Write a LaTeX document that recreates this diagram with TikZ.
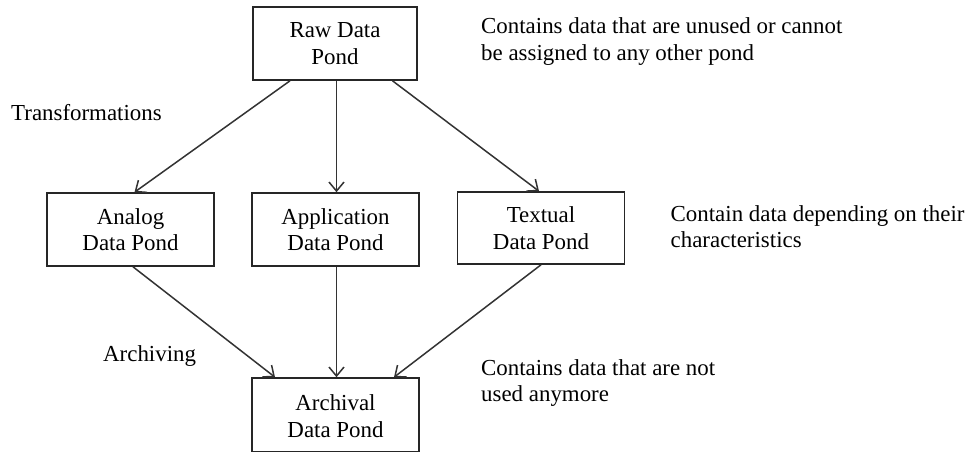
\documentclass[tikz,border=0pt]{standalone}
\usepackage{fontspec}
\setmainfont{Liberation Serif}
\usetikzlibrary{arrows.meta,calc}
\begin{document}
\begin{tikzpicture}[x=1pt,y=-1pt,
  font=\fontsize{22.9}{26.6}\selectfont,
  pond/.style={draw=black!85, line width=1.6pt, align=center,
    inner sep=0pt, minimum width=167pt, minimum height=73pt},
  flow/.style={draw=black!80, line width=1.5pt,
    -{Straight Barb[length=9pt,width=15pt,line width=1.5pt]}},
  note/.style={anchor=west, align=left, inner sep=0pt}]
  \useasboundingbox (0,0) rectangle (967,451);
  \clip (0,0) rectangle (967,451);

  % ponds
  \node[pond, minimum width=164pt] (raw) at (335,43.5) {Raw Data\\Pond};
  \node[pond] (analog) at (130.5,229.5) {Analog\\Data Pond};
  \node[pond] (app) at (335.5,229.5) {Application\\Data Pond};
  \node[pond, minimum height=72pt] (text) at (541,228) {Textual\\Data Pond};
  \node[pond, minimum height=74pt] (arch) at (335.5,415) {};
  \node[align=center, inner sep=0pt] (archlbl) at (335.5,416) {Archival\\Data Pond};

  % transformations
  \draw[flow] ($(raw.south)+(-45,0)$) -- ($(analog.north)+(4,0)$);
  \draw[flow] ($(raw.south)+(1.5,0)$) -- ($(app.north)+(1,0)$);
  \draw[flow] ($(raw.south)+(57.5,0)$) -- ($(text.north)+(-2,0)$);

  % archiving
  \draw[flow] ($(analog.south)+(2.5,0)$) -- ($(arch.north)+(-60.5,0)$);
  \draw[flow] ($(app.south)+(1,0)$) -- ($(arch.north)+(1,0)$);
  \draw[flow] (text.south) -- ($(arch.north)+(58.5,0)$);

  % labels
  \node[note] (ltrans) at (11,113) {Transformations};
  \node[note] (larch) at (103,356) {Archiving};
  \node[note] (nraw) at (481,41.5) {Contains data that are unused or cannot\\be assigned to any other pond};
  \node[note] (nmid) at (670.5,226.5) {Contain data depending on their\\characteristics};
  \node[note] (nbot) at (481,383) {Contains data that are not\\used anymore};
\end{tikzpicture}
\end{document}
